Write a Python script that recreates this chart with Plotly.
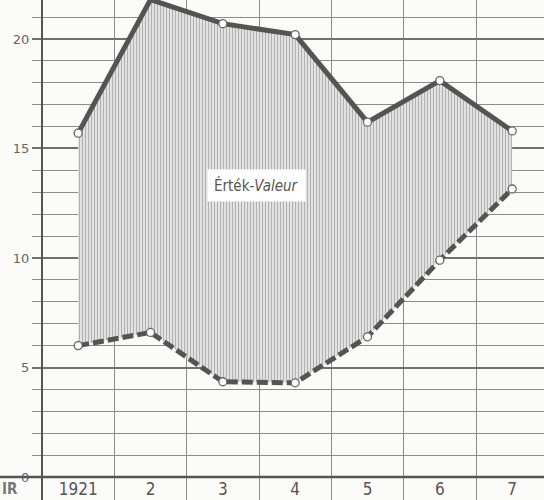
import plotly.graph_objects as go

years = ["1921", "2", "3", "4", "5", "6", "7"]
upper = [15.7, 21.8, 20.7, 20.2, 16.2, 18.1, 15.8]
lower = [6.0, 6.6, 4.35, 4.3, 6.4, 9.9, 13.15]
label_text = "Érték-<i>Valeur</i>"
y_ticks = [0, 5, 10, 15, 20]

xs = list(range(len(years)))
line_col = "#545454"
grid_col = "#8c8c8c"
bg = "#fbfbfa"

fig = go.Figure()
fig.add_trace(go.Scatter(
    x=xs, y=lower, mode="lines+markers",
    line=dict(color=line_col, width=5, dash="11px,4px"),
    marker=dict(symbol="circle", size=8, color="white", line=dict(color="#666", width=1.3)),
    cliponaxis=False, showlegend=False, hoverinfo="skip"))
fig.add_trace(go.Scatter(
    x=xs, y=upper, mode="lines+markers", fill="tonexty",
    fillcolor="rgba(0,0,0,0)",
    fillpattern=dict(shape="|", size=3, solidity=0.4, fgcolor="#7a7a7a", bgcolor="#e8e8e8"),
    line=dict(color=line_col, width=5),
    marker=dict(symbol="circle", size=8, color="white", line=dict(color="#666", width=1.3)),
    cliponaxis=False, showlegend=False, hoverinfo="skip"))

fig.add_annotation(x=2.46, y=13.3, text=label_text, showarrow=False,
                   font=dict(family="DejaVu Sans Condensed, DejaVu Sans", size=15, color="#555"),
                   bgcolor="white", borderpad=6)

# axis lines extending beyond plot area
fig.add_shape(type="line", xref="paper", yref="paper", x0=-0.09, x1=1.0, y0=0, y1=0,
              line=dict(color="#555", width=2.5))
fig.add_shape(type="line", xref="paper", yref="paper", x0=0, x1=0, y0=-0.05, y1=1.0,
              line=dict(color="#555", width=2))
fig.add_annotation(xref="paper", yref="paper", x=-0.083, y=-0.025, text="<b>IR</b>", showarrow=False,
                   font=dict(family="DejaVu Sans Condensed, DejaVu Sans", size=15, color="#777"),
                   xanchor="left", yanchor="middle")

fig.update_xaxes(
    range=[-0.5, 6.44], tickvals=xs, ticktext=years, showgrid=False, zeroline=False,
    ticks="", showline=False, automargin=False,
    tickfont=dict(family="Liberation Sans Narrow, DejaVu Sans Condensed, sans-serif", size=17, color="#555"),
    minor=dict(tick0=0.5, dtick=1, showgrid=True, gridcolor=grid_col, gridwidth=1.3,
               ticks="outside", ticklen=24, tickcolor=grid_col, tickwidth=1.3))
fig.update_yaxes(
    range=[0, 21.78], tickvals=y_ticks, showgrid=True, gridcolor="#707070", gridwidth=2,
    zeroline=False, showline=False, ticks="outside", ticklen=9, tickcolor="#707070", tickwidth=2,
    automargin=False,
    tickfont=dict(family="DejaVu Sans", size=13, color="#666"),
    minor=dict(dtick=1, showgrid=True, gridcolor=grid_col, gridwidth=1.3,
               ticks="outside", ticklen=9, tickcolor=grid_col, tickwidth=1.3))

fig.update_layout(
    width=544, height=500, margin=dict(l=42, r=0, t=0, b=23),
    paper_bgcolor=bg, plot_bgcolor=bg)

fig.write_html("out.html", config={"displayModeBar": False},
               post_script="document.body.style.margin='0';")
